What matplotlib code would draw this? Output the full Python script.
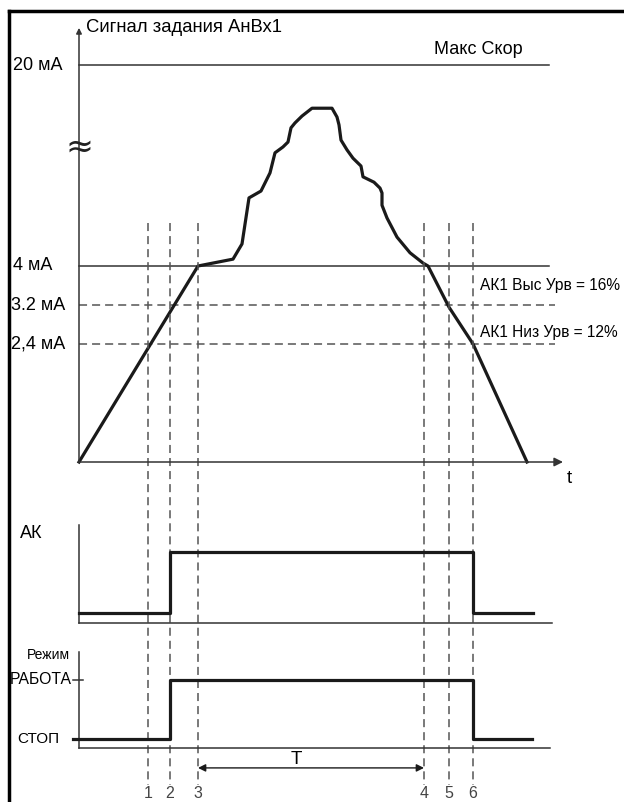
import matplotlib
matplotlib.use("Agg")
import matplotlib.pyplot as plt
from matplotlib.lines import Line2D

plt.rcParams['font.family'] = ['Liberation Sans', 'DejaVu Sans']
plt.rcParams['lines.scale_dashes'] = False

# reference signal: time (arbitrary units) vs level (mA, lower part of scale)
sig_t = [0.0, 11.9, 15.4, 16.3, 17.0, 18.2, 19.1, 19.6, 20.4, 20.9, 21.2, 21.6,
         22.3, 23.3, 25.3, 25.8, 26.0, 26.2, 26.8, 27.4, 28.2, 28.4, 29.5, 30.1,
         30.3, 30.3, 30.8, 31.8, 33.1, 34.4, 34.9, 37.0, 39.4, 44.8]
sig_v = [0.0, 4.00, 4.14, 4.45, 5.39, 5.53, 5.90, 6.31, 6.43, 6.53, 6.82, 6.92,
         7.06, 7.22, 7.22, 7.04, 6.88, 6.57, 6.37, 6.20, 6.04, 5.82, 5.71, 5.59,
         5.49, 5.24, 4.98, 4.59, 4.27, 4.06, 4.00, 3.16, 2.41, 0.0]

# event moments 1..6
event_t = [6.9, 9.1, 11.9, 34.5, 37.0, 39.4]
event_labels = ['1', '2', '3', '4', '5', '6']

# solid levels (20 mA sits above the scale break)
solid_levels = [8.10, 4.0]
solid_labels = ['20 мА', '4 мА']
dash_levels = [3.2, 2.4]
dash_labels = ['3.2 мА', '2,4 мА']
limit_labels = ['АК1 Выс Урв = 16%', 'АК1 Низ Урв = 12%']

# АК output and run mode (step edges / values)
ak_edges = [0.0, 9.1, 39.4, 45.4]
ak_vals = [0, 1, 0, 0]
mode_edges = [-0.6, 9.1, 39.4, 45.3]
mode_vals = [0, 1, 0, 0]
mode_ticks = ['СТОП', 'РАБОТА']

W, H = 624, 802
ink = '#1a1a1a'
thin = '#333333'
dash_col = '#555555'
dash_style = (0, (5.8, 3.6))

fig = plt.figure(figsize=(W / 100, H / 100), dpi=100)
fig.patch.set_facecolor('white')


def panel(top_px, bot_px, zero_px, per_px):
    ax = fig.add_axes([0, 1 - bot_px / H, 1, (bot_px - top_px) / H])
    ax.set_xlim(-7.9, 54.5)
    ax.set_ylim(-(bot_px - zero_px) / per_px, (zero_px - top_px) / per_px)
    ax.axis('off')
    ax.patch.set_visible(False)
    return ax


# ---- signal panel ----
ax = panel(20, 480, 462, 49)
ax.annotate('', xy=(0, 8.86), xytext=(0, 0),
            arrowprops=dict(arrowstyle='-|>', lw=1.1, color=thin,
                            mutation_scale=8, shrinkA=0, shrinkB=0))
ax.annotate('', xy=(48.4, 0), xytext=(0, 0),
            arrowprops=dict(arrowstyle='-|>', lw=1.1, color=thin,
                            mutation_scale=13, shrinkA=0, shrinkB=0))
ax.text(0.7, 8.86, 'Сигнал задания АнВх1', fontsize=13.3, va='center', ha='left')
ax.text(49.0, -0.33, 't', fontsize=13.5, va='center', ha='center')

for lv, lab in zip(solid_levels, solid_labels):
    ax.plot([0, 47.0], [lv, lv], color=thin, lw=1.1)
    ax.text(-6.6, lv, lab, fontsize=13, va='center', ha='left')
for lv, lab in zip(dash_levels, dash_labels):
    ax.plot([0, 47.6], [lv, lv], color=dash_col, lw=1.1, linestyle=dash_style)
    ax.text(-6.8, lv, lab, fontsize=13, va='center', ha='left')
for lv, lab in zip([3.6, 2.65], limit_labels):
    ax.text(40.1, lv, lab, fontsize=11.2, va='center', ha='left')

ax.text(44.4, 8.41, 'Макс Скор', fontsize=13, va='center', ha='right')
ax.text(0.0, 6.43, '≈', fontsize=24, va='center', ha='center',
        family='DejaVu Sans', color='#222222')

ax.plot(sig_t, sig_v, color=ink, lw=2.3, solid_joinstyle='round')

for t in event_t:
    ax.plot([t, t], [4.88, -6.6], color=dash_col, lw=1.1,
            linestyle=dash_style, clip_on=False)

# ---- АК panel ----
ax2 = panel(515, 630, 613, 61)
ax2.plot([0, 0], [-0.16, 1.44], color=thin, lw=1.1)
ax2.plot([0, 47.3], [-0.16, -0.16], color=thin, lw=1.1)
ax2.step(ak_edges, ak_vals, where='post', color=ink, lw=2.3)
ax2.text(-5.9, 1.31, 'АК', fontsize=13, va='center', ha='left')

# ---- mode panel ----
ax3 = panel(645, 755, 739, 59)
ax3.plot([0, 0], [-0.15, 1.47], color=thin, lw=1.1)
ax3.plot([0, 47.1], [-0.15, -0.15], color=thin, lw=1.1)
ax3.plot([-0.6, 0.4], [1, 1], color=thin, lw=1.1)
ax3.step(mode_edges, mode_vals, where='post', color=ink, lw=2.3)
ax3.text(-5.2, 1.42, 'Режим', fontsize=10, va='center', ha='left')
ax3.text(-6.9, 1, mode_ticks[1], fontsize=11.3, va='center', ha='left')
ax3.text(-6.2, 0, mode_ticks[0], fontsize=11, va='center', ha='left')

ax3.annotate('', xy=(event_t[3], -0.49), xytext=(event_t[2], -0.49),
             annotation_clip=False,
             arrowprops=dict(arrowstyle='<|-|>', lw=1.0, color=ink,
                             mutation_scale=11, shrinkA=0, shrinkB=0))
ax3.text(21.7, -0.34, 'Т', fontsize=13.5, va='center', ha='center')
for t, lab in zip(event_t, event_labels):
    ax3.text(t, -0.92, lab, fontsize=11.5, va='center', ha='center', color='#444444')

# frame of the original drawing (top and left edges)
fig.add_artist(Line2D([8.8 / W, 1], [1 - 10.5 / H] * 2, color='black', lw=2.5))
fig.add_artist(Line2D([8.8 / W] * 2, [0, 1 - 10.5 / H], color='black', lw=2.5))

fig.savefig('out.png', dpi=100, facecolor='white')
